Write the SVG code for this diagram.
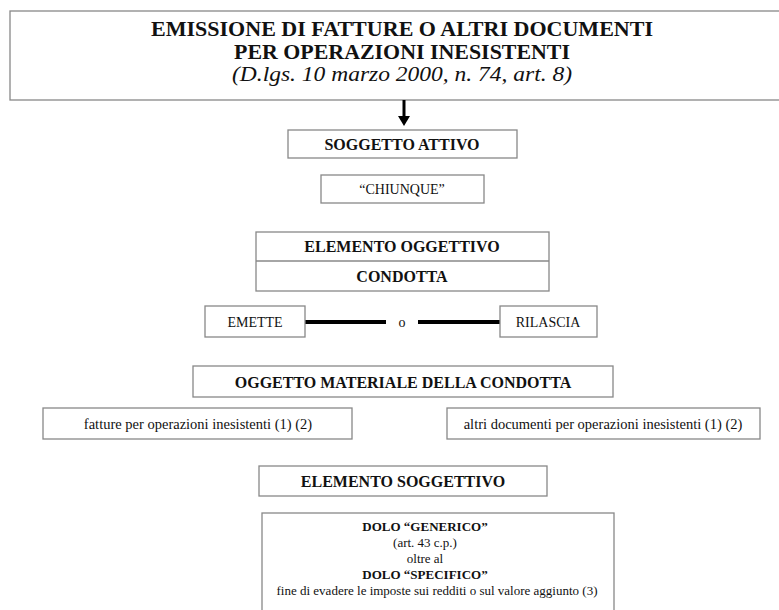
<svg xmlns="http://www.w3.org/2000/svg" width="779" height="610" viewBox="0 0 779 610">
<style>
text{font-family:"Liberation Serif","Times New Roman",serif;fill:#111;text-anchor:middle}
.t{font-weight:bold;font-size:21px}
.b{font-weight:bold;font-size:16px}
.n{font-size:14px}
.s{font-size:14.5px}
.d{font-size:13px}
.db{font-size:13px;font-weight:bold}
.box{fill:#fff;stroke:#888;stroke-width:1.3}
</style>
<rect width="779" height="610" fill="#fff"/>
<g id="title">
<rect class="box" x="10" y="11" width="790" height="89"/>
<text class="t" x="402" y="36" textLength="502" lengthAdjust="spacingAndGlyphs">EMISSIONE DI FATTURE O ALTRI DOCUMENTI</text>
<text class="t" x="402" y="59" textLength="336" lengthAdjust="spacingAndGlyphs">PER OPERAZIONI INESISTENTI</text>
<text x="402" y="81" style="font-style:italic;font-size:20px" textLength="340" lengthAdjust="spacingAndGlyphs">(D.lgs. 10 marzo 2000, n. 74, art. 8)</text>
</g>
<g id="connectors">
<line x1="404" y1="100" x2="404" y2="118" stroke="#000" stroke-width="3"/>
<path d="M398,116 L410,116 L404,126 Z" fill="#000"/>
<line x1="305" y1="322" x2="386" y2="322" stroke="#000" stroke-width="4"/>
<line x1="418" y1="322" x2="500" y2="322" stroke="#000" stroke-width="4"/>
</g>
<g id="soggetto-attivo">
<rect class="box" x="288" y="130" width="229" height="28"/>
<text class="b" x="402" y="150">SOGGETTO ATTIVO</text>
</g>
<g id="chiunque">
<rect class="box" x="321" y="175" width="163" height="28"/>
<text class="n" x="402" y="194">“CHIUNQUE”</text>
</g>
<g id="elemento-oggettivo">
<rect class="box" x="256" y="232" width="293" height="59"/>
<line x1="256" y1="261" x2="549" y2="261" stroke="#888" stroke-width="1.3"/>
<text class="b" x="402" y="252">ELEMENTO OGGETTIVO</text>
<text class="b" x="402" y="282">CONDOTTA</text>
</g>
<g id="emette">
<rect class="box" x="205" y="306" width="100" height="31"/>
<text class="n" x="255" y="327">EMETTE</text>
</g>
<text class="n" x="402" y="327">o</text>
<g id="rilascia">
<rect class="box" x="500" y="306" width="97" height="31"/>
<text class="n" x="548" y="327">RILASCIA</text>
</g>
<g id="oggetto-materiale">
<rect class="box" x="193" y="366" width="420" height="31"/>
<text class="b" x="403" y="388">OGGETTO MATERIALE DELLA CONDOTTA</text>
</g>
<g id="fatture">
<rect class="box" x="43" y="408" width="309" height="31"/>
<text class="s" x="198" y="429">fatture per operazioni inesistenti (1) (2)</text>
</g>
<g id="altri-documenti">
<rect class="box" x="447" y="408" width="313" height="31"/>
<text class="s" x="603" y="429">altri documenti per operazioni inesistenti (1) (2)</text>
</g>
<g id="elemento-soggettivo">
<rect class="box" x="259" y="466" width="288" height="30"/>
<text class="b" x="403" y="487">ELEMENTO SOGGETTIVO</text>
</g>
<g id="dolo">
<rect class="box" x="262" y="513" width="352" height="110"/>
<text class="db" x="425" y="531">DOLO “GENERICO”</text>
<text class="d" x="425" y="547">(art. 43 c.p.)</text>
<text class="d" x="425" y="563">oltre al</text>
<text class="db" x="425" y="579">DOLO “SPECIFICO”</text>
<text class="d" x="437" y="595">fine di evadere le imposte sui redditi o sul valore aggiunto (3)</text>
</g>
</svg>
